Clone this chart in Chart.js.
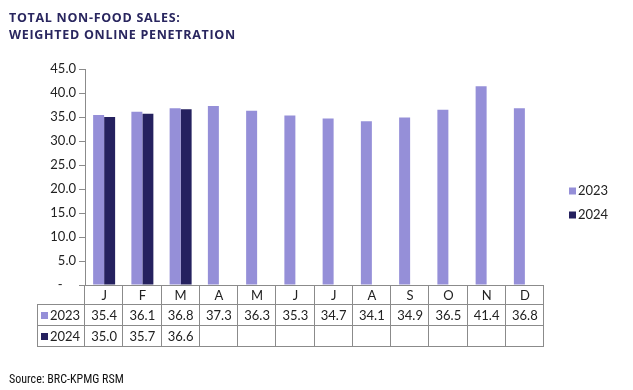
<!DOCTYPE html>
<html>
<head>
<meta charset="utf-8">
<script src="https://cdn.jsdelivr.net/npm/chart.js@4.4.1/dist/chart.umd.min.js"></script>
<style>
  html, body { margin: 0; padding: 0; background: #fff; }
  #wrap { position: relative; width: 633px; height: 390px; }
</style>
</head>
<body>
<div id="wrap"><canvas id="salesChart" width="633" height="390"></canvas></div>
<script>
// data
const months = ['J', 'F', 'M', 'A', 'M', 'J', 'J', 'A', 'S', 'O', 'N', 'D'];
const sales2023 = [35.4, 36.1, 36.8, 37.3, 36.3, 35.3, 34.7, 34.1, 34.9, 36.5, 41.4, 36.8];
const sales2024 = [35.0, 35.7, 36.6, null, null, null, null, null, null, null, null, null];
const seriesNames = ['2023', '2024'];
const yTicks = [0, 5, 10, 15, 20, 25, 30, 35, 40, 45];

const light = '#958fd8';
const dark = '#25215f';
const lineGrey = '#8b8b8b';
const bodyFont = 'Lato, "Liberation Sans", sans-serif';

// title, legend, source and the data table under the axis
const extrasPlugin = {
    id: 'extras',
    afterDraw(chart) {
        const ctx = chart.ctx;
        const xs = chart.scales.x;
        const area = chart.chartArea;
        ctx.save();

        // title
        ctx.fillStyle = '#29265f';
        ctx.font = 'bold 12.5px "Open Sans", sans-serif';
        ctx.letterSpacing = '0.7px';
        ctx.textBaseline = 'alphabetic';
        ctx.textAlign = 'left';
        ctx.fillText('TOTAL NON-FOOD SALES:', 9, 21.5);
        ctx.fillText('WEIGHTED ONLINE PENETRATION', 9, 38.5);
        ctx.letterSpacing = '0px';

        // legend on the right
        ctx.font = '13px ' + bodyFont;
        ctx.textBaseline = 'middle';
        [light, dark].forEach((c, i) => {
            const y = 191 + i * 24;
            ctx.fillStyle = c;
            ctx.fillRect(569, y - 3.5, 7, 7);
            ctx.fillStyle = '#222';
            ctx.fillText(seriesNames[i], 578, y);
        });

        // table grid
        const cw = (xs.right - xs.left) / months.length;
        const left = 37;
        const rows = [area.bottom, 304, 325, 346];
        ctx.strokeStyle = lineGrey;
        ctx.lineWidth = 1;
        ctx.beginPath();
        ctx.moveTo(xs.left, rows[0] + 0.5);
        ctx.lineTo(xs.right, rows[0] + 0.5);
        for (let r = 1; r < rows.length; r++) {
            ctx.moveTo(left, rows[r] + 0.5);
            ctx.lineTo(xs.right, rows[r] + 0.5);
        }
        for (let i = 0; i <= months.length; i++) {
            const x = Math.round(xs.left + i * cw) - 0.5;
            ctx.moveTo(x, rows[0]);
            ctx.lineTo(x, rows[3] + 1);
        }
        ctx.moveTo(left + 0.5, rows[1]);
        ctx.lineTo(left + 0.5, rows[3] + 1);
        ctx.stroke();

        // header and values
        ctx.fillStyle = '#222';
        ctx.font = '13px ' + bodyFont;
        ctx.textAlign = 'center';
        months.forEach((m, i) => {
            const cx = xs.getPixelForValue(i);
            ctx.fillText(m, cx, (rows[0] + rows[1]) / 2 + 1);
            ctx.fillText(sales2023[i].toFixed(1), cx, (rows[1] + rows[2]) / 2 + 1);
            if (sales2024[i] !== null) {
                ctx.fillText(sales2024[i].toFixed(1), cx, (rows[2] + rows[3]) / 2 + 1);
            }
        });

        // row keys
        ctx.textAlign = 'left';
        [light, dark].forEach((c, i) => {
            const y = (rows[i + 1] + rows[i + 2]) / 2 + 1;
            ctx.fillStyle = c;
            ctx.fillRect(41, y - 3.5, 7, 7);
            ctx.fillStyle = '#222';
            ctx.fillText(seriesNames[i], 50, y);
        });

        // source
        ctx.font = '12px "Liberation Sans Narrow", "Roboto Condensed", "DejaVu Sans Condensed", sans-serif';
        ctx.fillStyle = '#111';
        ctx.textBaseline = 'alphabetic';
        ctx.fillText('Source: BRC-KPMG RSM', 9, 383);

        ctx.restore();
    }
};

new Chart(document.getElementById('salesChart'), {
    type: 'bar',
    data: {
        labels: months,
        datasets: [
            { label: seriesNames[0], data: sales2023, backgroundColor: light },
            { label: seriesNames[1], data: sales2024, backgroundColor: dark }
        ]
    },
    options: {
        responsive: false,
        animation: false,
        layout: { padding: { left: 0, right: 89, top: 69, bottom: 105 } },
        datasets: { bar: { categoryPercentage: 0.575, barPercentage: 1 } },
        plugins: { legend: { display: false }, tooltip: { enabled: false } },
        scales: {
            x: { display: false },
            y: {
                min: 0,
                max: 45,
                afterBuildTicks(scale) {
                    scale.ticks = yTicks.map(v => ({ value: v }));
                },
                afterFit(scale) { scale.width = 85; },
                border: { color: lineGrey },
                grid: { drawOnChartArea: false, drawTicks: true, tickLength: 6, color: lineGrey },
                ticks: {
                    padding: 3,
                    color: '#222',
                    font: { family: bodyFont, size: 13 },
                    callback: v => v === 0 ? '-    ' : v.toFixed(1)
                }
            }
        }
    },
    plugins: [extrasPlugin]
});
</script>
</body>
</html>
